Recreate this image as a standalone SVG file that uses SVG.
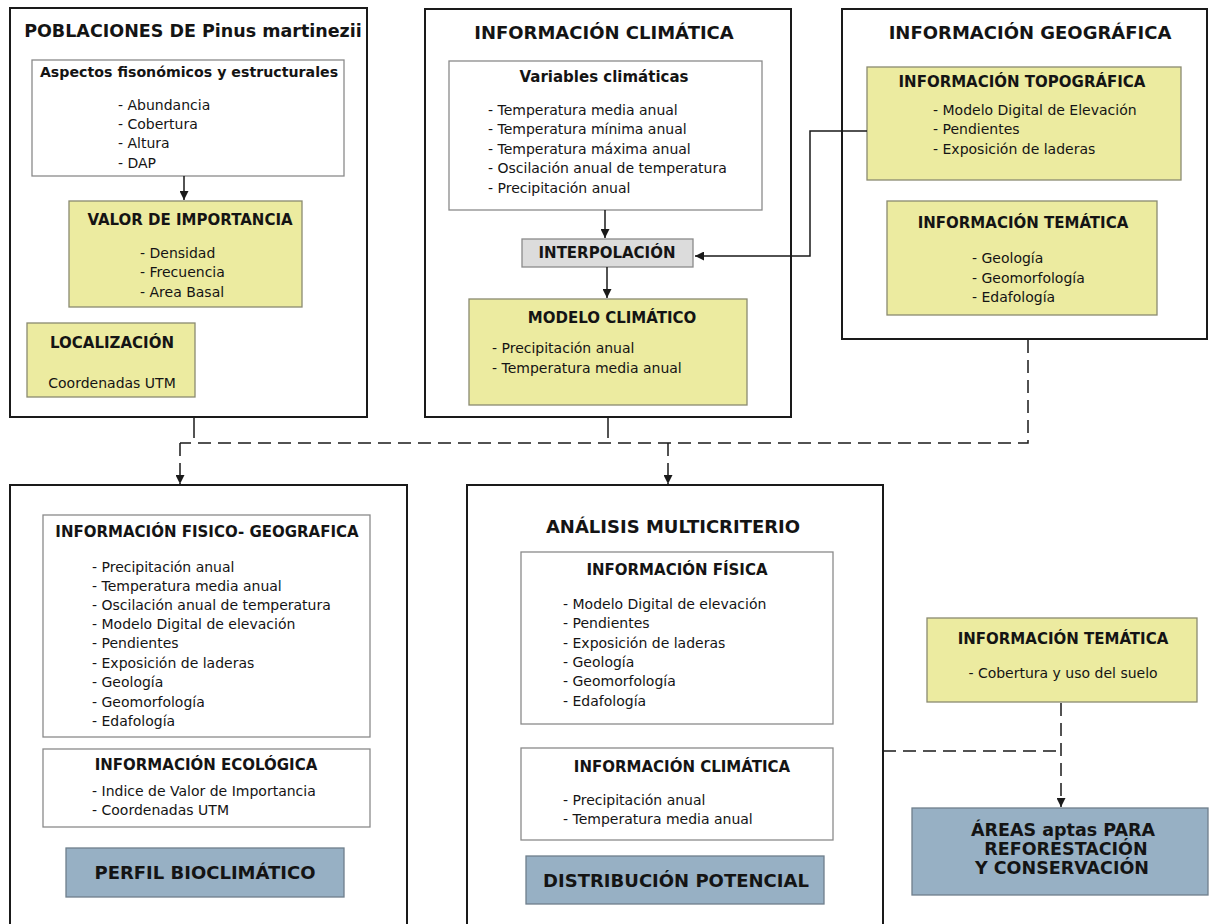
<svg xmlns="http://www.w3.org/2000/svg" width="1209" height="924" viewBox="0 0 1209 924">
<defs>
<style>
.outer{fill:#fff;stroke:#1a1a1a;stroke-width:2}
.inner{fill:#fff;stroke:#8a8a8a;stroke-width:1.3}
.yel{fill:#ECEBA0;stroke:#8a8a70;stroke-width:1.3}
.gry{fill:#DCDCDC;stroke:#8a8a8a;stroke-width:1.3}
.blu{fill:#97B0C4;stroke:#6f7f8c;stroke-width:1.3}
text{font-family:"DejaVu Sans",Verdana,sans-serif;fill:#141414}
.h1{font-size:18px;font-weight:bold;text-anchor:middle}
.h2{font-size:15px;font-weight:bold;text-anchor:middle}
.b{font-size:14px}
.bc{font-size:14px;text-anchor:middle}
.res{font-size:18px;font-weight:bold;text-anchor:middle}
.ar{font-size:17.5px;font-weight:bold;text-anchor:middle}
.sol{fill:none;stroke:#1a1a1a;stroke-width:1.5}
.dash{fill:none;stroke:#1a1a1a;stroke-width:1.5;stroke-dasharray:13 7}
</style>
<marker id="ah" viewBox="0 0 10 10" refX="10" refY="5" markerWidth="9" markerHeight="9" markerUnits="userSpaceOnUse" orient="auto">
<path d="M0,0 L10,5 L0,10 z" fill="#1a1a1a"/>
</marker>
</defs>

<g id="poblaciones">
<rect class="outer" x="10" y="8" width="357" height="409"/>
<text class="h1" x="193" y="37" style="font-size:17.5px">POBLACIONES DE Pinus martinezii</text>
<g id="aspectos">
<rect class="inner" x="32" y="60" width="312" height="116"/>
<text class="h2" x="189" y="77" style="font-size:14.2px">Aspectos fisonómicos y estructurales</text>
<text class="b" x="118" y="110">- Abundancia</text>
<text class="b" x="118" y="129">- Cobertura</text>
<text class="b" x="118" y="148">- Altura</text>
<text class="b" x="118" y="168">- DAP</text>
</g>
<g id="valor">
<rect class="yel" x="69" y="201" width="233" height="106"/>
<text class="h2" x="190" y="225">VALOR DE IMPORTANCIA</text>
<text class="b" x="140" y="258">- Densidad</text>
<text class="b" x="140" y="277">- Frecuencia</text>
<text class="b" x="140" y="297">- Area Basal</text>
</g>
<g id="localizacion">
<rect class="yel" x="27" y="323" width="168" height="74"/>
<text class="h2" x="112" y="348">LOCALIZACIÓN</text>
<text class="bc" x="112" y="388">Coordenadas UTM</text>
</g>
</g>

<g id="info-climatica">
<rect class="outer" x="425" y="9" width="366" height="408"/>
<text class="h1" x="604" y="39">INFORMACIÓN CLIMÁTICA</text>
<g id="variables">
<rect class="inner" x="449" y="61" width="313" height="149"/>
<text class="h2" x="204" y="82" transform="translate(400,0)">Variables climáticas</text>
<text class="b" x="488" y="115">- Temperatura media anual</text>
<text class="b" x="488" y="134">- Temperatura mínima anual</text>
<text class="b" x="488" y="154">- Temperatura máxima anual</text>
<text class="b" x="488" y="173">- Oscilación anual de temperatura</text>
<text class="b" x="488" y="193">- Precipitación anual</text>
</g>
<g id="interpolacion">
<rect class="gry" x="522" y="239" width="171" height="28"/>
<text class="h2" x="607" y="258">INTERPOLACIÓN</text>
</g>
<g id="modelo">
<rect class="yel" x="469" y="299" width="278" height="106"/>
<text class="h2" x="612" y="323">MODELO CLIMÁTICO</text>
<text class="b" x="492" y="353">- Precipitación anual</text>
<text class="b" x="492" y="373">- Temperatura media anual</text>
</g>
</g>

<g id="info-geografica">
<rect class="outer" x="842" y="9" width="365" height="330"/>
<text class="h1" x="1030" y="39">INFORMACIÓN GEOGRÁFICA</text>
<g id="topografica">
<rect class="yel" x="867" y="67" width="314" height="113"/>
<text class="h2" x="1022" y="87">INFORMACIÓN TOPOGRÁFICA</text>
<text class="b" x="933" y="115">- Modelo Digital de Elevación</text>
<text class="b" x="933" y="134">- Pendientes</text>
<text class="b" x="933" y="154">- Exposición de laderas</text>
</g>
<g id="tematica-geo">
<rect class="yel" x="887" y="201" width="270" height="114"/>
<text class="h2" x="1023" y="228">INFORMACIÓN TEMÁTICA</text>
<text class="b" x="972" y="263">- Geología</text>
<text class="b" x="972" y="283">- Geomorfología</text>
<text class="b" x="972" y="302">- Edafología</text>
</g>
</g>

<g id="perfil">
<rect class="outer" x="10" y="485" width="397" height="460"/>
<g id="fisico-geografica">
<rect class="inner" x="43" y="515" width="327" height="222"/>
<text class="h2" x="207" y="537">INFORMACIÓN FISICO- GEOGRAFICA</text>
<text class="b" x="92" y="572">- Precipitación anual</text>
<text class="b" x="92" y="591">- Temperatura media anual</text>
<text class="b" x="92" y="610">- Oscilación anual de temperatura</text>
<text class="b" x="92" y="629">- Modelo Digital de elevación</text>
<text class="b" x="92" y="648">- Pendientes</text>
<text class="b" x="92" y="668">- Exposición de laderas</text>
<text class="b" x="92" y="687">- Geología</text>
<text class="b" x="92" y="707">- Geomorfología</text>
<text class="b" x="92" y="726">- Edafología</text>
</g>
<g id="ecologica">
<rect class="inner" x="43" y="749" width="327" height="78"/>
<text class="h2" x="206" y="770">INFORMACIÓN ECOLÓGICA</text>
<text class="b" x="92" y="796">- Indice de Valor de Importancia</text>
<text class="b" x="92" y="815">- Coordenadas UTM</text>
</g>
<g id="perfil-bioclimatico">
<rect class="blu" x="66" y="848" width="278" height="49"/>
<text class="res" x="205" y="879">PERFIL BIOCLIMÁTICO</text>
</g>
</g>

<g id="analisis">
<rect class="outer" x="467" y="485" width="416" height="460"/>
<text class="h1" x="673" y="533">ANÁLISIS MULTICRITERIO</text>
<g id="fisica">
<rect class="inner" x="521" y="552" width="312" height="172"/>
<text class="h2" x="677" y="575">INFORMACIÓN FÍSICA</text>
<text class="b" x="563" y="609">- Modelo Digital de elevación</text>
<text class="b" x="563" y="628">- Pendientes</text>
<text class="b" x="563" y="648">- Exposición de laderas</text>
<text class="b" x="563" y="667">- Geología</text>
<text class="b" x="563" y="686">- Geomorfología</text>
<text class="b" x="563" y="706">- Edafología</text>
</g>
<g id="climatica-b">
<rect class="inner" x="521" y="748" width="312" height="92"/>
<text class="h2" x="682" y="772">INFORMACIÓN CLIMÁTICA</text>
<text class="b" x="563" y="805">- Precipitación anual</text>
<text class="b" x="563" y="824">- Temperatura media anual</text>
</g>
<g id="distribucion">
<rect class="blu" x="526" y="856" width="298" height="48"/>
<text class="res" x="676" y="887">DISTRIBUCIÓN POTENCIAL</text>
</g>
</g>

<g id="tematica-suelo">
<rect class="yel" x="927" y="618" width="270" height="84"/>
<text class="h2" x="1063" y="644">INFORMACIÓN TEMÁTICA</text>
<text class="bc" x="1063" y="678">- Cobertura y uso del suelo</text>
</g>

<g id="areas">
<rect class="blu" x="912" y="808" width="296" height="87"/>
<text class="ar" x="1063" y="836">ÁREAS aptas PARA</text>
<text class="ar" x="1066" y="855">REFORESTACIÓN</text>
<text class="ar" x="1062" y="874">Y CONSERVACIÓN</text>
</g>

<g id="connectors">
<line class="sol" x1="184" y1="176" x2="184" y2="200" marker-end="url(#ah)"/>
<line class="sol" x1="605" y1="210" x2="605" y2="238" marker-end="url(#ah)"/>
<line class="sol" x1="607" y1="267" x2="607" y2="298" marker-end="url(#ah)"/>
<polyline class="sol" points="867,131 810,131 810,256 695,256" marker-end="url(#ah)"/>
<line class="sol" x1="194" y1="418" x2="194" y2="438"/>
<line class="sol" x1="608" y1="418" x2="608" y2="438"/>
<polyline class="dash" points="1028,340 1028,443 180,443"/>
<line class="dash" x1="180" y1="443" x2="180" y2="484" marker-end="url(#ah)"/>
<line class="dash" x1="668" y1="443" x2="668" y2="484" marker-end="url(#ah)"/>
<line class="dash" x1="883" y1="751" x2="1061" y2="751"/>
<line class="dash" x1="1061" y1="703" x2="1061" y2="807" marker-end="url(#ah)"/>
</g>
</svg>
